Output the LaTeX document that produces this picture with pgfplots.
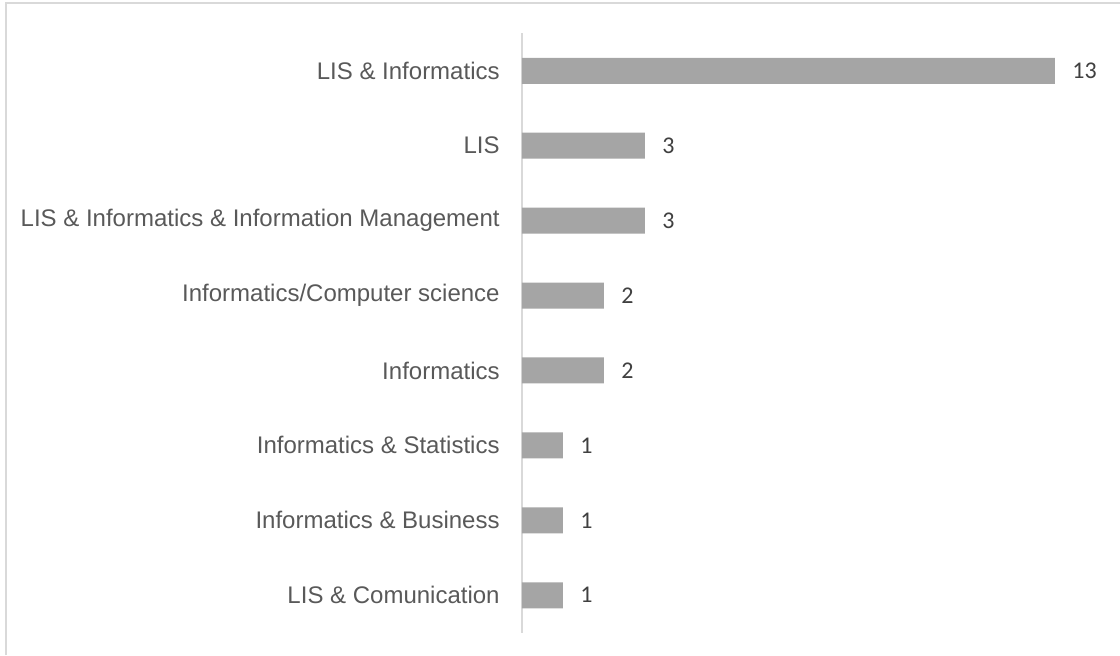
\documentclass[border=0pt]{standalone}
\usepackage{pgfplots}
\pgfplotsset{compat=1.18}
\usepackage{fontspec}
\setmainfont{Liberation Sans}
\newfontfamily\carlito{Carlito}
\definecolor{bargray}{HTML}{A5A5A5}
\definecolor{axgray}{HTML}{D9D9D9}
\definecolor{labgray}{HTML}{595959}
\definecolor{valgray}{HTML}{404040}
\begin{document}
\begin{tikzpicture}
\path[use as bounding box] (0,0) rectangle (560pt,327.5pt);
\draw[axgray, line width=1pt] (3pt,0) -- (3pt,325.75pt) -- (560pt,325.75pt);
\begin{axis}[
  at={(261pt,11.15pt)}, anchor=south west,
  scale only axis, width=287pt, height=299.7pt,
  xmin=0, xmax=14, ymin=-0.5, ymax=7.5, y dir=reverse,
  xbar, bar width=13pt,
  axis x line=none, axis y line=left,
  axis line style={axgray, line width=0.75pt, -},
  ytick={0,...,7},
  yticklabels={LIS \& Informatics, LIS, LIS \& Informatics \& Information Management,
    Informatics/Computer science, Informatics, Informatics \& Statistics,
    Informatics \& Business, LIS \& Comunication},
  major tick length=0pt,
  y tick label style={font=\fontsize{12}{14}\selectfont, text=labgray, inner sep=0pt, xshift=-11pt},
  /pgf/number format/assume math mode=true,
  nodes near coords,
  nodes near coords style={font=\carlito\fontsize{12}{14}\selectfont, text=valgray, inner sep=0pt, xshift=8.5pt, anchor=west},
  clip=false,
]
\addplot[fill=bargray, draw=none] coordinates {
  (13,0) (3,1) (3,2) (2,3) (2,4) (1,5) (1,6) (1,7)
};
\end{axis}
\end{tikzpicture}
\end{document}
